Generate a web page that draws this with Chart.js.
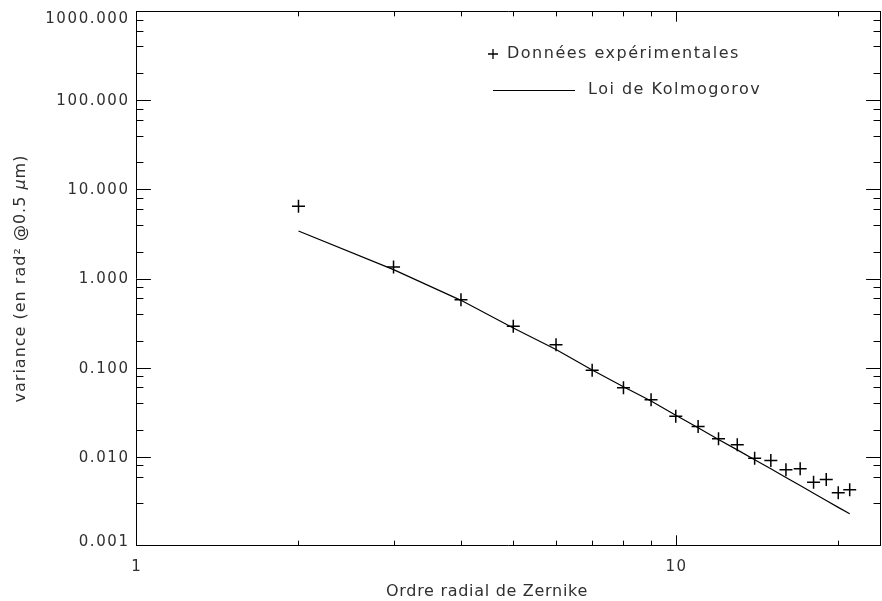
<!DOCTYPE html>
<html><head><meta charset="utf-8">
<script src="https://cdn.jsdelivr.net/npm/chart.js@4/dist/chart.umd.min.js"></script>
<style>html,body{margin:0;padding:0;background:#fff;overflow:hidden;}canvas{display:block;}</style>
</head><body>
<canvas id="c" width="889" height="601"></canvas>
<script>
// ---- data ----
const orders = [2,3,4,5,6,7,8,9,10,11,12,13,14,15,16,17,18,19,20,21];
const experimental = [6.46,1.35,0.579,0.291,0.181,0.0933,0.0596,0.0438,0.0286,0.0219,0.0160,0.0137,0.00967,0.00911,0.00716,0.00735,0.00520,0.00557,0.00395,0.00428];
const kolmogorov = [3.41,1.259,0.569,0.279,0.160,0.0944,0.0610,0.0422,0.0292,0.0212,0.01567,0.01197,0.00929,0.00735,0.00586,0.00476,0.00391,0.00324,0.00271,0.00230];
const yMajorValues = [0.001,0.01,0.1,1,10,100,1000];
const yMajorLabels = ['0.001','0.010','0.100','1.000','10.000','100.000','1000.000'];
const xMajorValues = [1,10];
const xMajorLabels = ['1','10'];
const seriesNames = ['Données expérimentales','Loi de Kolmogorov'];
const xTitle = 'Ordre radial de Zernike';
const yTitleParts = ['variance (en rad² @0.5 ', 'μ', 'm)'];

const FONT = "'DejaVu Sans', sans-serif";
const TXT = '#303030';

function tickKind(v){
  const e = Math.floor(Math.log10(v) + 1e-9);
  const m = v / Math.pow(10, e);
  const r = Math.round(m);
  if (Math.abs(m - r) > 1e-6) return 0;
  return r === 1 ? 2 : 1;
}

const framePlugin = {
  id: 'frame',
  afterDatasetsDraw(chart){
    const ctx = chart.ctx;
    const {left,right,top,bottom} = chart.chartArea;
    const xs = chart.scales.x, ys = chart.scales.y;
    ctx.save();
    ctx.strokeStyle = '#000';
    ctx.lineWidth = 1;
    ctx.beginPath();
    ctx.rect(left+0.5, top+0.5, right-left-1, bottom-top-1);
    ctx.stroke();
    const yMaj = (right-left)*0.02, xMaj = (bottom-top)*0.02;
    ctx.beginPath();
    ys.ticks.forEach(t => {
      const k = tickKind(t.value); if (!k) return;
      const len = k===2 ? yMaj : yMaj/2;
      const py = Math.min(Math.round(ys.getPixelForValue(t.value)), bottom-1) + 0.5;
      ctx.moveTo(left, py); ctx.lineTo(left+len, py);
      ctx.moveTo(right, py); ctx.lineTo(right-len, py);
    });
    xs.ticks.forEach(t => {
      const k = tickKind(t.value); if (!k) return;
      const len = k===2 ? xMaj : xMaj/2;
      const px = Math.min(Math.round(xs.getPixelForValue(t.value)), right-1) + 0.5;
      ctx.moveTo(px, bottom); ctx.lineTo(px, bottom-len);
      ctx.moveTo(px, top); ctx.lineTo(px, top+len);
    });
    ctx.stroke();
    ctx.restore();
  },
  afterDraw(chart){
    const ctx = chart.ctx;
    const {top,bottom} = chart.chartArea;
    const xs = chart.scales.x, ys = chart.scales.y;
    ctx.save();
    ctx.fillStyle = TXT;
    // tick labels
    ctx.font = '15px ' + FONT;
    ctx.letterSpacing = '1.6px';
    ctx.textAlign = 'right';
    ctx.textBaseline = 'middle';
    yMajorValues.forEach((v,i) => {
      let py = ys.getPixelForValue(v);
      py = Math.max(top + 7, Math.min(bottom - 5, py));
      ctx.fillText(yMajorLabels[i], 129.6, py + 1);
    });
    ctx.textAlign = 'center';
    xMajorValues.forEach((v,i) => {
      const px = xs.getPixelForValue(v);
      ctx.fillText(xMajorLabels[i], px + 0.8, 567);
    });
    // x title
    ctx.font = '16px ' + FONT;
    ctx.letterSpacing = '0.7px';
    ctx.textAlign = 'center';
    ctx.textBaseline = 'middle';
    ctx.fillText(xTitle, 487, 592);
    // y title (rotated)
    ctx.save();
    ctx.translate(25, (top+bottom)/2);
    ctx.rotate(-Math.PI/2);
    ctx.textBaseline = 'alphabetic';
    ctx.letterSpacing = '1px';
    const w0 = ctx.measureText(yTitleParts[0]).width;
    ctx.font = 'italic 16px ' + FONT;
    const w1 = ctx.measureText(yTitleParts[1]).width;
    ctx.font = '16px ' + FONT;
    const w2 = ctx.measureText(yTitleParts[2]).width;
    let x0 = -(w0+w1+w2)/2;
    ctx.textAlign = 'left';
    ctx.fillText(yTitleParts[0], x0, 0);
    ctx.font = 'italic 16px ' + FONT;
    ctx.fillText(yTitleParts[1], x0+w0, 0);
    ctx.font = '16px ' + FONT;
    ctx.fillText(yTitleParts[2], x0+w0+w1, 0);
    ctx.restore();
    // legend
    ctx.letterSpacing = '1.5px';
    ctx.textAlign = 'left';
    ctx.textBaseline = 'middle';
    ctx.strokeStyle = '#000';
    ctx.lineWidth = 1.3;
    ctx.beginPath();
    ctx.moveTo(488, 54); ctx.lineTo(498, 54);
    ctx.moveTo(493, 49); ctx.lineTo(493, 59);
    ctx.stroke();
    ctx.fillText(seriesNames[0], 507, 54);
    ctx.lineWidth = 1.1;
    ctx.beginPath();
    ctx.moveTo(493, 90.5); ctx.lineTo(575, 90.5);
    ctx.stroke();
    ctx.fillText(seriesNames[1], 588, 90);
    ctx.restore();
  }
};

new Chart(document.getElementById('c'), {
  type: 'scatter',
  data: {
    datasets: [
      {
        label: seriesNames[1],
        data: orders.map((o,i)=>({x:o, y:kolmogorov[i]})),
        showLine: true,
        borderColor: '#000',
        borderWidth: 1.2,
        pointRadius: 0,
        tension: 0,
        fill: false
      },
      {
        label: seriesNames[0],
        data: orders.map((o,i)=>({x:o, y:experimental[i]})),
        showLine: false,
        pointStyle: 'cross',
        pointRadius: 6.5,
        pointBorderWidth: 1.5,
        pointBorderColor: '#000',
        pointBackgroundColor: '#000'
      }
    ]
  },
  options: {
    responsive: false,
    devicePixelRatio: 1,
    animation: false,
    layout: { padding: { top: 11, right: 8, left: 136, bottom: 55 } },
    plugins: { legend: { display: false }, tooltip: { enabled: false } },
    scales: {
      x: { type: 'logarithmic', min: 1, max: 24, display: false },
      y: { type: 'logarithmic', min: 0.001, max: 1000, display: false }
    }
  },
  plugins: [framePlugin]
});
</script>
</body></html>
